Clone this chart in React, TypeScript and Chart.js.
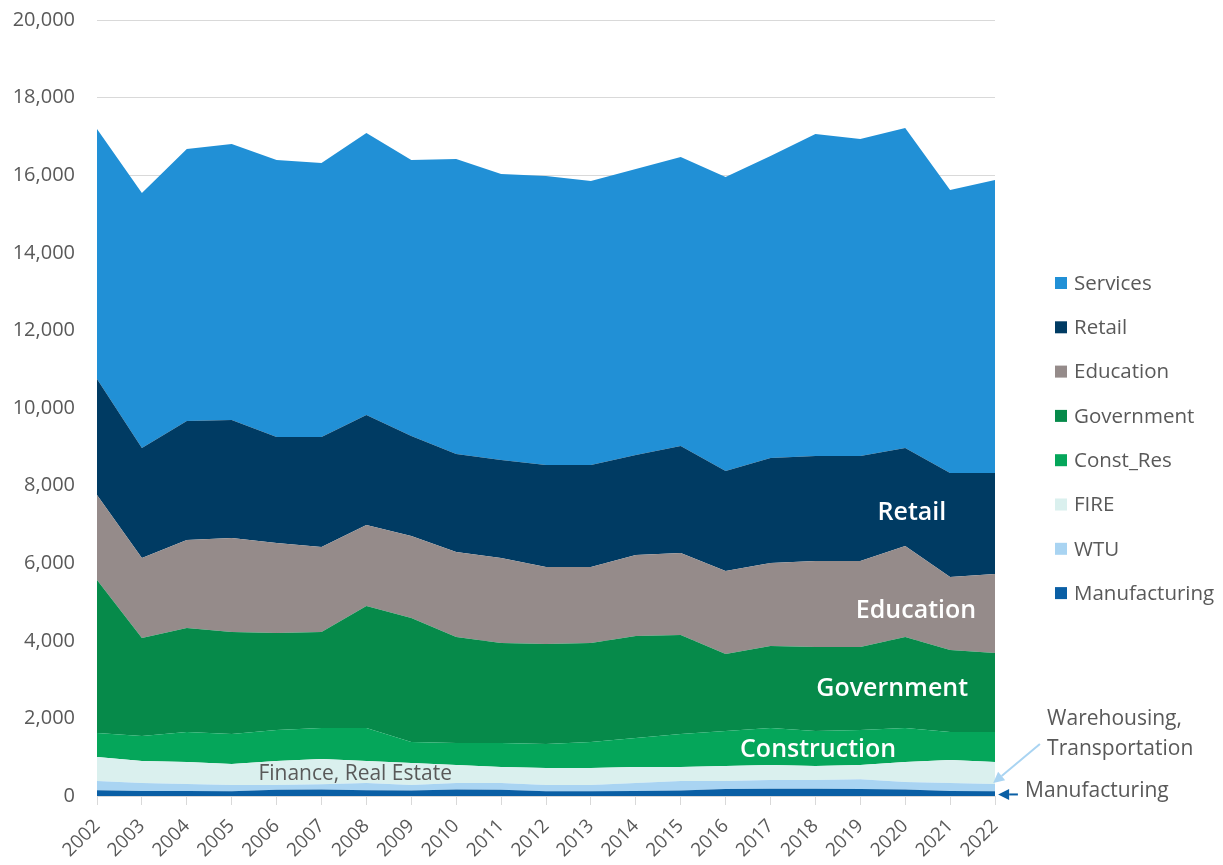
import React, { useEffect, useRef } from "react";
import { Chart, registerables } from "chart.js";

Chart.register(...registerables);

const years = [
  "2002", "2003", "2004", "2005", "2006", "2007", "2008", "2009", "2010", "2011", "2012",
  "2013", "2014", "2015", "2016", "2017", "2018", "2019", "2020", "2021", "2022",
];

const manufacturing = [150, 130, 130, 120, 160, 170, 150, 140, 170, 160, 120, 120, 130, 140, 180, 190, 190, 180, 170, 130, 120];
const wtu = [237, 205, 179, 164, 124, 130, 185, 144, 165, 175, 164, 164, 205, 247, 207, 222, 222, 250, 190, 205, 190];
const fire = [618, 567, 567, 541, 618, 654, 567, 567, 464, 412, 438, 438, 412, 360, 386, 387, 361, 369, 516, 593, 566];
const constRes = [619, 644, 773, 773, 799, 799, 851, 541, 567, 619, 618, 670, 748, 851, 902, 954, 902, 902, 877, 721, 773];
const government = [3943, 2526, 2681, 2629, 2500, 2474, 3144, 3196, 2732, 2577, 2578, 2551, 2629, 2551, 1985, 2113, 2165, 2139, 2345, 2114, 2037];
const education = [2191, 2062, 2268, 2422, 2320, 2191, 2088, 2113, 2191, 2191, 1984, 1959, 2087, 2114, 2139, 2139, 2217, 2217, 2345, 1881, 2036];
const retail = [2989, 2835, 3067, 3042, 2732, 2835, 2835, 2577, 2525, 2526, 2629, 2629, 2578, 2758, 2577, 2706, 2706, 2706, 2526, 2681, 2603];
const services = [6443, 6572, 7010, 7113, 7139, 7061, 7268, 7114, 7604, 7371, 7448, 7319, 7371, 7448, 7578, 7784, 8299, 8170, 8247, 7294, 7551];

const seriesNames = ["Manufacturing", "WTU", "FIRE", "Const_Res", "Government", "Education", "Retail", "Services"];
const seriesValues = [manufacturing, wtu, fire, constRes, government, education, retail, services];
const seriesColors = ["#0A5FA5", "#A9D4F2", "#DAF0EE", "#05A65A", "#068A4A", "#958B8A", "#003B63", "#2190D6"];

const yMin = 0;
const yMax = 20000;
const yStep = 2000;

// annotation labels placed in data coordinates (x = year index, y = value)
const whiteLabels = [
  { text: "Retail", x: 18.15, y: 7303 },
  { text: "Education", x: 18.24, y: 4774 },
  { text: "Government", x: 17.71, y: 2761 },
  { text: "Construction", x: 16.06, y: 1187 },
];
const grayLabels = [
  { text: "Finance, Real Estate", x: 5.75, y: 568, align: "center" },
  { text: "Warehousing,", x: 21.16, y: 1987, align: "left" },
  { text: "Transportation", x: 21.16, y: 1213, align: "left" },
  { text: "Manufacturing", x: 20.67, y: 129, align: "left" },
];
const arrows = [
  { from: [21.0, 1342], to: [19.96, 335], color: "#A9D4F2" },
  { from: [20.51, 40], to: [20.07, 40], color: "#0A5FA5" },
];

const FONT = "'Open Sans', 'Noto Sans', sans-serif";
const GRAY = "#595959";

const overlayPlugin = {
  id: "overlay",
  afterDatasetsDraw(chart: any) {
    const { ctx, scales, chartArea } = chart;
    const xs = scales.x;
    const ys = scales.y;
    ctx.save();
    ctx.textBaseline = "middle";
    ctx.fillStyle = "#ffffff";
    ctx.font = `600 25px ${FONT}`;
    ctx.textAlign = "center";
    for (const l of whiteLabels) {
      ctx.fillText(l.text, xs.getPixelForValue(l.x), ys.getPixelForValue(l.y));
    }
    ctx.fillStyle = GRAY;
    ctx.font = `21px ${FONT}`;
    for (const l of grayLabels) {
      ctx.textAlign = l.align;
      ctx.fillText(l.text, xs.getPixelForValue(l.x), ys.getPixelForValue(l.y));
    }
    for (const a of arrows) {
      const x1 = xs.getPixelForValue(a.from[0]);
      const y1 = ys.getPixelForValue(a.from[1]);
      const x2 = xs.getPixelForValue(a.to[0]);
      const y2 = ys.getPixelForValue(a.to[1]);
      const ang = Math.atan2(y2 - y1, x2 - x1);
      const head = 11;
      const hw = 5.5;
      const bx = x2 - head * Math.cos(ang);
      const by = y2 - head * Math.sin(ang);
      ctx.strokeStyle = a.color;
      ctx.fillStyle = a.color;
      ctx.lineWidth = 2;
      ctx.beginPath();
      ctx.moveTo(x1, y1);
      ctx.lineTo(bx, by);
      ctx.stroke();
      ctx.beginPath();
      ctx.moveTo(x2, y2);
      ctx.lineTo(bx + hw * Math.sin(ang), by - hw * Math.cos(ang));
      ctx.lineTo(bx - hw * Math.sin(ang), by + hw * Math.cos(ang));
      ctx.closePath();
      ctx.fill();
    }
    // legend (reverse stacking order, top to bottom)
    const boxX = chartArea.right + 60;
    const startY = 275;
    const gap = 44.3;
    ctx.font = `20.5px ${FONT}`;
    ctx.textAlign = "left";
    const n = chart.data.datasets.length;
    for (let i = 0; i < n; i++) {
      const ds = chart.data.datasets[n - 1 - i];
      const cy = startY + i * gap;
      ctx.fillStyle = ds.backgroundColor;
      ctx.fillRect(boxX, cy - 6, 12, 12);
      ctx.fillStyle = GRAY;
      ctx.fillText(ds.label, boxX + 19, cy + 1);
    }
    ctx.restore();
  },
};

export default function App() {
  const canvasRef = useRef<HTMLCanvasElement | null>(null);

  useEffect(() => {
    const canvas = canvasRef.current;
    if (!canvas) return;
    const chart = new Chart(canvas, {
      type: "line",
      data: {
        labels: years,
        datasets: seriesNames.map((name, i) => ({
          label: name,
          data: seriesValues[i],
          backgroundColor: seriesColors[i],
          borderColor: seriesColors[i],
          borderWidth: 0,
          pointRadius: 0,
          tension: 0,
          fill: i === 0 ? "origin" : "-1",
        })),
      },
      options: {
        animation: false,
        responsive: true,
        maintainAspectRatio: false,
        layout: { padding: { top: 12, right: 220, left: 0, bottom: 0 } },
        plugins: {
          legend: { display: false },
          tooltip: { enabled: false },
        },
        scales: {
          x: {
            grid: {
              drawOnChartArea: false,
              drawTicks: true,
              tickLength: 9,
              color: "#d9d9d9",
            },
            border: { display: true, color: "#d9d9d9" },
            ticks: {
              maxRotation: 45,
              minRotation: 45,
              autoSkip: false,
              color: GRAY,
              font: { family: FONT, size: 19 },
              padding: 10,
            },
            afterFit: (scale: any) => {
              scale.height = 69;
            },
          },
          y: {
            stacked: true,
            min: yMin,
            max: yMax,
            ticks: {
              stepSize: yStep,
              color: GRAY,
              font: { family: FONT, size: 20 },
              padding: 22,
              callback: (v: any) => Number(v).toLocaleString("en-US"),
            },
            grid: { color: "#d9d9d9", drawTicks: false },
            border: { display: false },
            afterFit: (scale: any) => {
              scale.width = 89;
              scale.paddingTop = 12;
              scale.paddingBottom = 12;
            },
          },
        },
      },
      plugins: [overlayPlugin],
    });
    return () => chart.destroy();
  }, []);

  return (
    <div style={{ width: 1207, height: 849, position: "relative" }}>
      <div style={{ position: "absolute", left: 0, top: 0, width: 1207, height: 857 }}>
        <canvas ref={canvasRef} />
      </div>
    </div>
  );
}
